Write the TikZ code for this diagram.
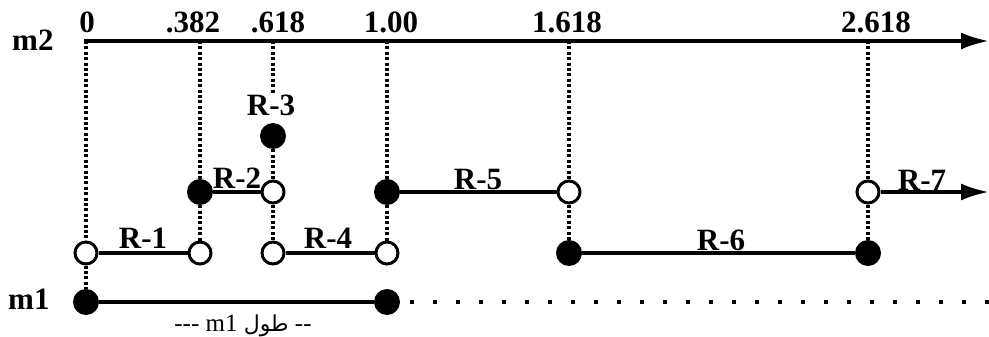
\documentclass[tikz,border=0pt]{standalone}
\usepackage{fontspec}
\setmainfont{Liberation Serif}
\newfontfamily\arabicfont[Script=Arabic]{DejaVu Sans}
\TeXXeTstate=1
\usetikzlibrary{arrows.meta}
\begin{document}
\begin{tikzpicture}[x=1pt,y=-1pt,
  filled/.style={circle,fill=black,minimum size=26pt,inner sep=0pt},
  hollow/.style={circle,draw=black,fill=white,line width=3pt,minimum size=22pt,inner sep=0pt},
  seg/.style={line width=3.4pt},
  vdot/.style={line width=3.2pt,dash pattern=on 3pt off 2.4pt},
  hdot/.style={line width=4pt,dash pattern=on 4pt off 19pt},
  lbl/.style={font=\fontsize{31}{34}\selectfont\bfseries,anchor=base,inner sep=0pt},
  big/.style={-{Latex[length=28pt,width=17pt]}}
]
\useasboundingbox (0,0) rectangle (989,337);
% axis
\coordinate (axs) at (84,41);
\coordinate (axe) at (989,41);
\draw[seg,big] (axs) -- (axe);
\coordinate (t0) at (86,41);
\coordinate (t382) at (200,41);
\coordinate (t618) at (273,41);
\coordinate (t100) at (387,41);
\coordinate (t1618) at (569,41);
\coordinate (t2618) at (868,41);
\coordinate (r3top) at (273,93);
% points
\node[filled] (r3) at (273,136) {};
\node[filled] (a382) at (200,192) {};
\node[hollow] (a618) at (273,192) {};
\node[filled] (a100) at (387,192) {};
\node[hollow] (a1618) at (569,192) {};
\node[hollow] (a2618) at (868,192) {};
\node[hollow] (b0) at (86,253) {};
\node[hollow] (b382) at (200,253) {};
\node[hollow] (b618) at (273,253) {};
\node[hollow] (b100) at (387,253) {};
\node[filled] (b1618) at (569,253) {};
\node[filled] (b2618) at (868,253) {};
\node[filled] (c0) at (86,302) {};
\node[filled] (c100) at (387,302) {};
\coordinate (r7end) at (989,192);
\coordinate (m1start) at (410,302);
\coordinate (m1end) at (989,302);
% dotted verticals
\draw[vdot] (t0) -- (b0);
\draw[vdot] (b0) -- (c0);
\draw[vdot] (t382) -- (a382);
\draw[vdot] (a382) -- (b382);
\draw[vdot] (t618) -- (r3top);
\draw[vdot] (r3) -- (a618);
\draw[vdot] (a618) -- (b618);
\draw[vdot] (t100) -- (a100);
\draw[vdot] (a100) -- (b100);
\draw[vdot] (t1618) -- (a1618);
\draw[vdot] (a1618) -- (b1618);
\draw[vdot] (t2618) -- (a2618);
\draw[vdot] (a2618) -- (b2618);
% segments
\draw[seg] (b0) -- (b382);
\draw[seg] (a382) -- (a618);
\draw[seg] (b618) -- (b100);
\draw[seg] (a100) -- (a1618);
\draw[seg] (b1618) -- (b2618);
\draw[seg,big] (a2618) -- (r7end);
\draw[seg] (c0) -- (c100);
\draw[hdot] (m1start) -- (m1end);
% labels
\node[lbl,anchor=base west] (lm2) at (12,51) {m2};
\node[lbl,anchor=base west] (lm1) at (8,309) {m1};
\node[lbl] (l0) at (87,33) {0};
\node[lbl] (l382) at (193,33) {.382};
\node[lbl] (l618) at (278,33) {.618};
\node[lbl] (l100) at (391,33) {1.00};
\node[lbl] (l1618) at (567,33) {1.618};
\node[lbl] (l2618) at (876,33) {2.618};
\node[lbl] (lr1) at (143,248) {R-1};
\node[lbl] (lr2) at (237,188) {R-2};
\node[lbl] (lr3) at (271,116) {R-3};
\node[lbl] (lr4) at (328,248) {R-4};
\node[lbl] (lr5) at (478,189) {R-5};
\node[lbl] (lr6) at (721,250) {R-6};
\node[lbl] (lr7) at (922,190) {R-7};
\node[anchor=base,inner sep=0pt,font=\fontsize{25}{28}\selectfont] (len) at (243,331) {-{}-{}- m1 {\arabicfont\fontsize{22}{25}\selectfont\beginR طول\endR} -{}-};
\end{tikzpicture}
\end{document}
